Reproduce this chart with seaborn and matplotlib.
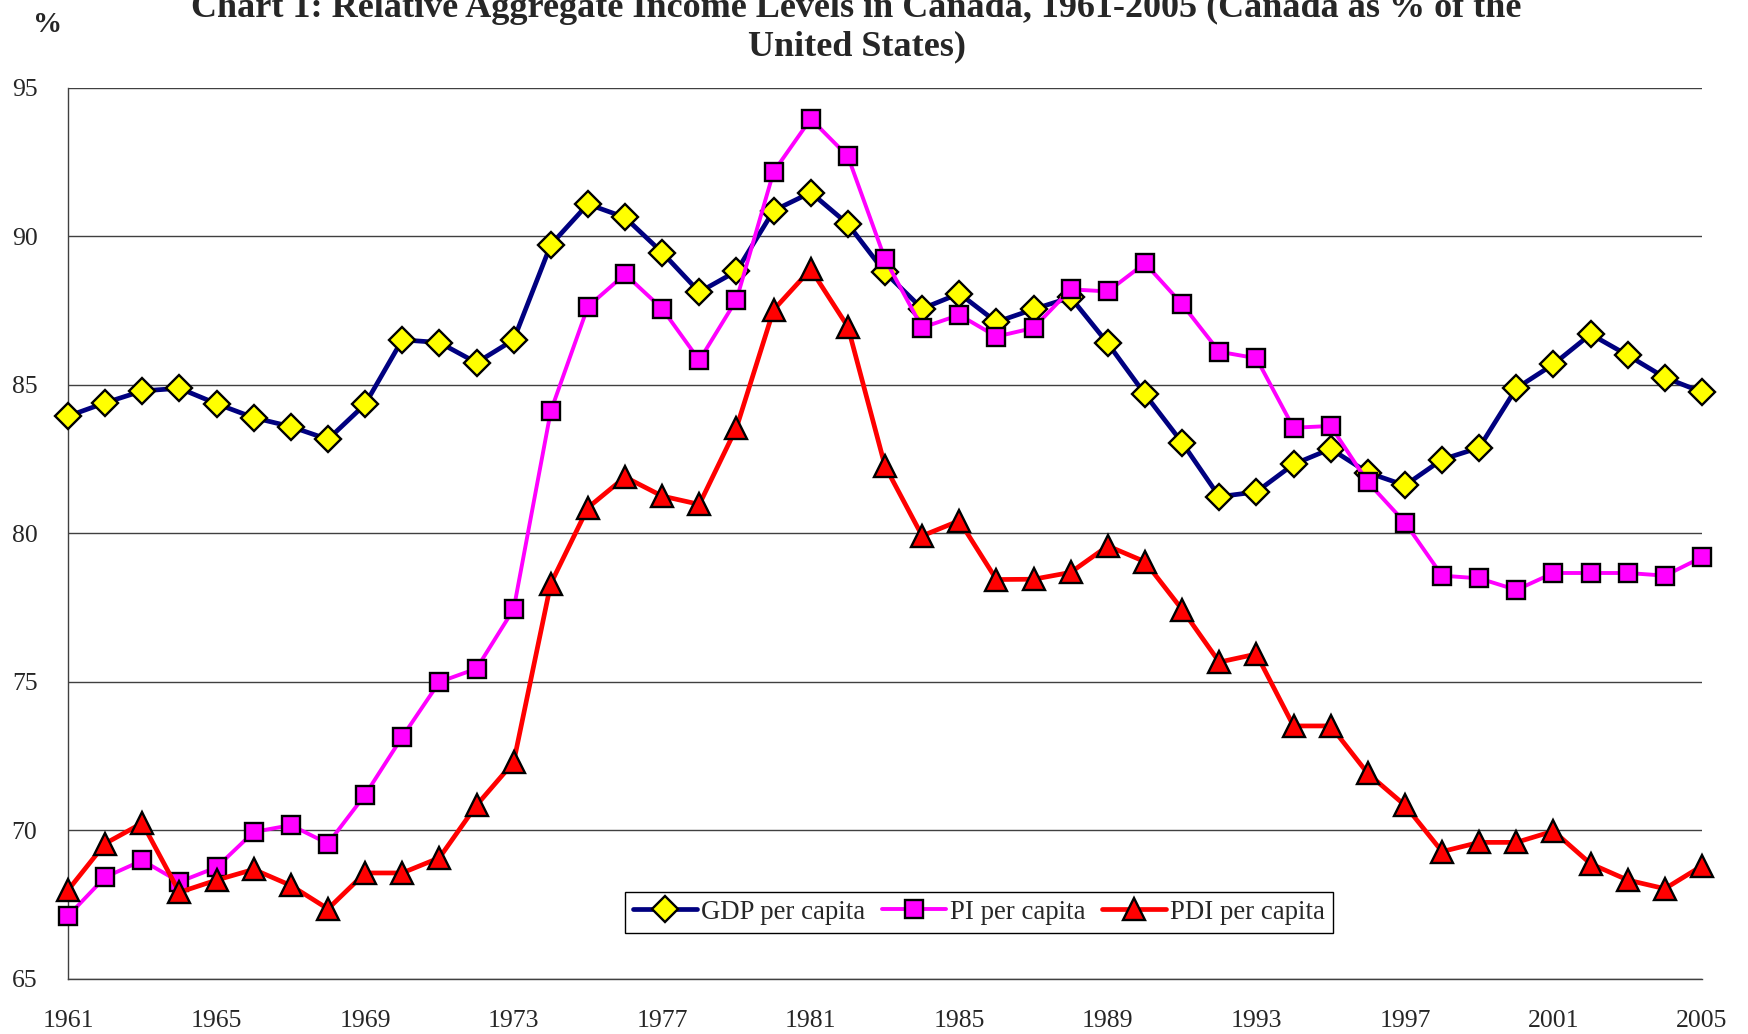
import numpy as np
import pandas as pd
import seaborn as sns
import matplotlib.pyplot as plt
from matplotlib.ticker import MultipleLocator

years = list(range(1961, 2006))

gdp = [83.95, 84.40, 84.80, 84.89, 84.37, 83.90, 83.60, 83.17, 84.35, 86.52,
       86.43, 85.75, 86.52, 89.72, 91.09, 90.64, 89.46, 88.13, 88.83, 90.87,
       91.48, 90.42, 88.79, 87.57, 88.08, 87.12, 87.55, 87.95, 86.40, 84.69,
       83.06, 81.24, 81.40, 82.33, 82.85, 82.05, 81.62, 82.49, 82.89, 84.89,
       85.70, 86.71, 86.00, 85.25, 84.76]

pi = [67.12, 68.43, 68.99, 68.27, 68.76, 69.95, 70.18, 69.56, 71.20, 73.15,
      75.00, 75.45, 77.45, 84.12, 87.64, 88.73, 87.57, 85.83, 87.87, 92.18,
      93.96, 92.70, 89.24, 86.93, 87.36, 86.63, 86.92, 88.22, 88.15, 89.10,
      87.72, 86.12, 85.90, 83.56, 83.62, 81.73, 80.37, 78.58, 78.49, 78.10,
      78.67, 78.67, 78.67, 78.58, 79.20]

pdi = [67.99, 69.56, 70.25, 67.92, 68.33, 68.69, 68.15, 67.36, 68.57, 68.57,
       69.08, 70.85, 72.30, 78.31, 80.87, 81.90, 81.26, 80.98, 83.56, 87.53,
       88.90, 86.96, 82.27, 79.92, 80.43, 78.45, 78.46, 78.69, 79.58, 79.05,
       77.44, 75.67, 75.94, 73.52, 73.52, 71.92, 70.85, 69.29, 69.60, 69.60,
       69.98, 68.88, 68.33, 68.04, 68.81]

title = "Chart 1: Relative Aggregate Income Levels in Canada, 1961-2005 (Canada as % of the\nUnited States)"

sns.set_style("white")
plt.rcParams['font.family'] = ['Liberation Serif', 'DejaVu Serif']

fig = plt.figure(figsize=(17.48, 10.34), dpi=100)
ax = fig.add_axes([0.0389, 0.0532, 0.9348, 0.8617])

common = dict(markeredgecolor='black', markeredgewidth=1.7, clip_on=False, zorder=3)
sns.lineplot(x=years, y=gdp, ax=ax, color='#000080', lw=3.4, marker='D',
             markerfacecolor='#FFFF00', markersize=13.5, label='GDP per capita', **common)
sns.lineplot(x=years, y=pi, ax=ax, color='#FF00FF', lw=2.8, marker='s',
             markerfacecolor='#FF00FF', markersize=13.5, label='PI per capita', **common)
sns.lineplot(x=years, y=pdi, ax=ax, color='#FF0000', lw=3.4, marker='^',
             markerfacecolor='#FF0000', markersize=15.5, label='PDI per capita', **common)

ax.set_xlim(1961, 2005)
ax.set_ylim(65, 95)
ax.set_xticks(years[::4])
ax.xaxis.set_minor_locator(MultipleLocator(1))
ax.set_yticks(np.arange(65, 96, 5))
ax.yaxis.grid(True, color='#404040', lw=1)
ax.set_axisbelow(True)
ax.tick_params(axis='both', which='both', direction='out', length=8, width=1,
               color='#606060', labelsize=18.5, pad=14)
ax.tick_params(axis='x', which='minor', labelbottom=False)
for s in ['top', 'right']:
    ax.spines[s].set_visible(False)
for s in ['left', 'bottom']:
    ax.spines[s].set_color('#404040')
    ax.spines[s].set_linewidth(1)
ax.set_xlabel('')
ax.set_ylabel('')

leg = ax.legend(loc='center', bbox_to_anchor=(0.5575, 0.075), ncol=3, fontsize=19.3,
                frameon=True, fancybox=False, edgecolor='black', framealpha=1,
                handlelength=2.4, handletextpad=0.15, columnspacing=0.6,
                borderpad=0.3, borderaxespad=0)
leg.get_frame().set_linewidth(1)

fig.text(0.49, 0.973, title, ha='center', va='center', fontsize=26,
         fontweight='bold', linespacing=1.2)
fig.text(0.027, 0.976, '%', ha='center', va='center', fontsize=21, fontweight='bold')

fig.savefig('out.png', dpi=100)
